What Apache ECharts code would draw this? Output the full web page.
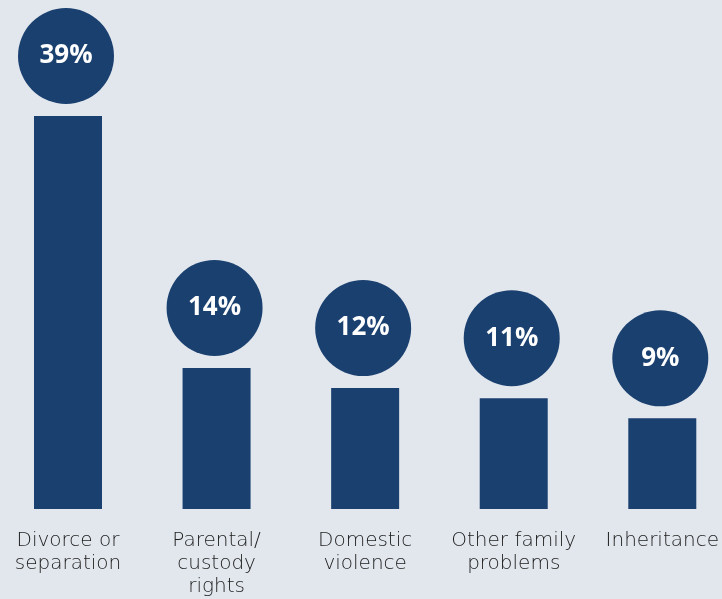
<!DOCTYPE html>
<html>
<head>
<meta charset="utf-8">
<script src="https://cdn.jsdelivr.net/npm/echarts@6/dist/echarts.min.js"></script>
<style>
html,body{margin:0;padding:0;background:#e2e7ee;}
#chart{width:722px;height:599px;}
</style>
</head>
<body>
<div id="chart"></div>
<script>
var categories = ['Divorce or\nseparation', 'Parental/\ncustody\nrights', 'Domestic\nviolence', 'Other family\nproblems', 'Inheritance'];
var values = [39, 14, 12, 11, 9];
var valueLabels = ['39%', '14%', '12%', '11%', '9%'];

var navy = '#1a406f';
var chart = echarts.init(document.getElementById('chart'));
chart.setOption({
  backgroundColor: '#e2e7ee',
  animation: false,
  grid: { left: 68, right: 58, top: 116, bottom: 90, containLabel: false },
  xAxis: {
    type: 'category',
    data: categories,
    boundaryGap: false,
    axisLine: { show: false },
    axisTick: { show: false },
    axisLabel: {
      color: '#1c1c1c',
      fontFamily: 'DejaVu Sans',
      fontWeight: 200,
      fontSize: 20,
      lineHeight: 23,
      margin: 20,
      interval: 0
    }
  },
  yAxis: { type: 'value', min: 0, max: 39, show: false },
  series: [
    {
      type: 'bar',
      data: values,
      barWidth: 68,
      itemStyle: { color: navy }
    },
    {
      type: 'scatter',
      data: values,
      clip: false,
      symbol: 'circle',
      symbolSize: 96,
      symbolOffset: [-2, -60],
      itemStyle: { color: navy, opacity: 1 },
      label: {
        show: true,
        position: 'inside',
        formatter: function (p) { return valueLabels[p.dataIndex]; },
        color: '#ffffff',
        fontFamily: 'Open Sans',
        fontWeight: 'bold',
        fontSize: 26
      },
      z: 3
    }
  ]
});
</script>
</body>
</html>
